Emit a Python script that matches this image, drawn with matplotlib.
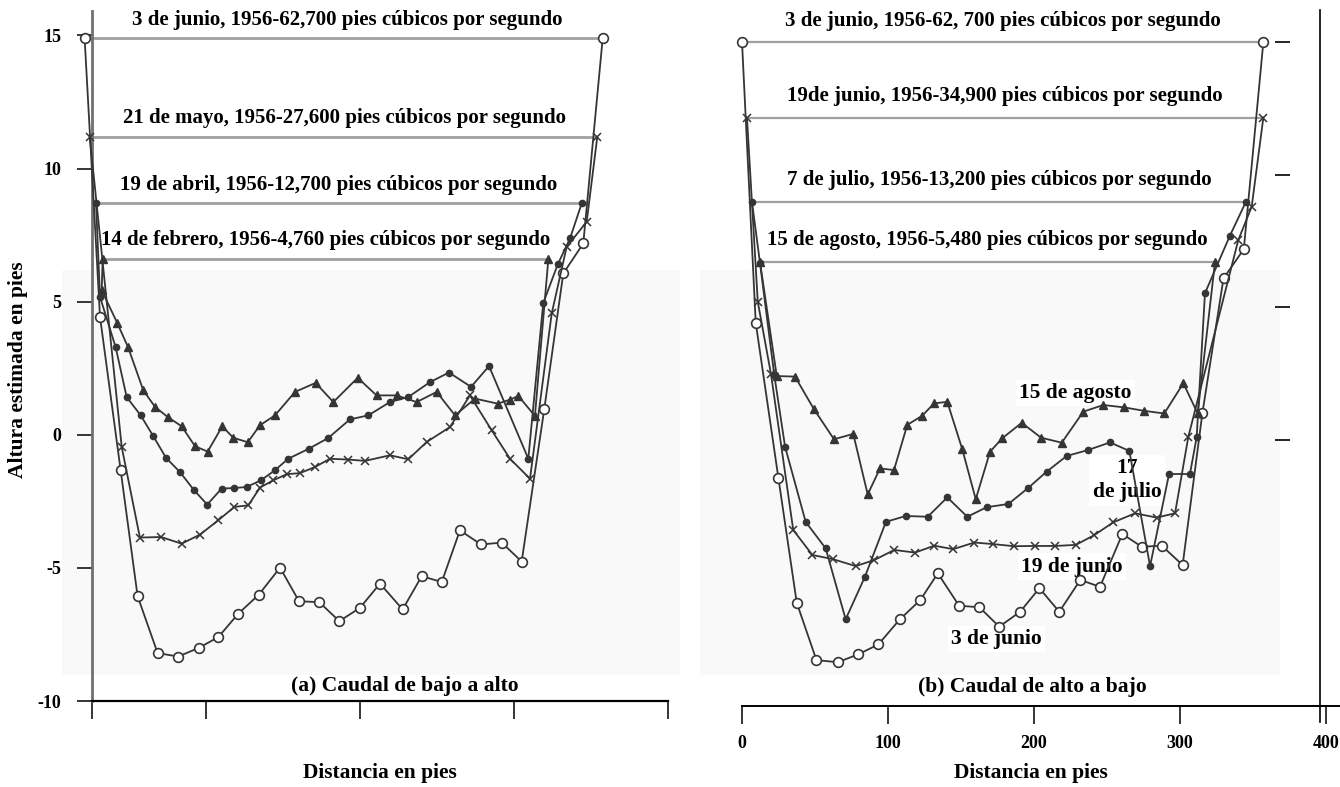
import matplotlib
matplotlib.use("Agg")
import matplotlib.pyplot as plt
from matplotlib.lines import Line2D
from matplotlib.patches import Rectangle

plt.rcParams['font.family'] = ['Liberation Serif', 'DejaVu Serif']
plt.rcParams['font.weight'] = 'bold'

# ---- (a) Caudal de bajo a alto: distancia (pies) y altura (pies) ----
feb_x = [32.9, 32.3, 42.4, 49.5, 59.3, 66.9, 75.1, 84.2, 92.9, 101.1, 110.6, 117.7, 127.1, 135.1,
         144.8, 157.8, 171.2, 182.7, 198.5, 210.8, 223.8, 236.8, 249.8, 261.7, 274.7, 289.4,
         297.4, 302.8, 313.6, 322.3]
feb_y = [6.6, 5.43, 4.2, 3.28, 1.67, 1.05, 0.67, 0.32, -0.43, -0.63, 0.32, -0.11, -0.28, 0.36,
         0.73, 1.61, 1.95, 1.23, 2.14, 1.48, 1.48, 1.23, 1.61, 0.73, 1.36, 1.17, 1.32, 1.46, 0.71, 6.6]

abr_x = [28.6, 31.2, 41.4, 48.5, 57.6, 65.8, 74.0, 83.1, 92.4, 100.8, 110.2, 118.4, 126.4, 135.7,
         144.8, 153.4, 166.9, 179.4, 193.5, 205.4, 219.5, 231.4, 245.5, 257.8, 272.1, 283.8,
         309.3, 319.0, 328.4, 336.4, 344.0]
abr_y = [8.7, 5.18, 3.28, 1.42, 0.73, -0.05, -0.86, -1.4, -2.09, -2.62, -2.02, -2.0, -1.96, -1.71,
         -1.33, -0.9, -0.52, -0.12, 0.58, 0.73, 1.23, 1.42, 1.98, 2.34, 1.8, 2.58, -0.9, 4.95,
         6.4, 7.38, 8.7]

may_x = [24.5, 45.3, 57.1, 70.8, 84.2, 96.1, 108.0, 118.4, 127.5, 135.1, 143.7, 152.4, 161.0,
         170.8, 180.5, 192.4, 203.2, 219.5, 231.4, 243.3, 258.4, 271.4, 285.5, 297.4, 310.4,
         324.5, 334.2, 347.2, 354.1]
may_y = [11.2, -0.46, -3.86, -3.84, -4.09, -3.75, -3.21, -2.71, -2.65, -1.98, -1.71, -1.48, -1.44,
         -1.21, -0.9, -0.93, -0.98, -0.77, -0.92, -0.27, 0.29, 1.48, 0.17, -0.9, -1.65, 4.56,
         7.06, 8.0, 11.2]

jun_x = [21.2, 31.2, 44.6, 55.6, 68.6, 82.0, 95.5, 108.0, 121.0, 134.4, 148.1, 160.4, 173.6,
         186.6, 200.0, 213.0, 227.7, 240.1, 253.1, 264.9, 278.6, 292.0, 305.0, 319.7, 332.0,
         345.0, 357.6]
jun_y = [14.9, 4.43, -1.33, -6.06, -8.2, -8.33, -8.0, -7.6, -6.72, -6.0, -4.99, -6.25, -6.29,
         -7.0, -6.5, -5.59, -6.56, -5.31, -5.53, -3.59, -4.12, -4.05, -4.76, 0.98, 6.06, 7.19, 14.9]

niveles_a = [14.9, 11.2, 8.7, 6.6]
textos_a = ["3 de junio, 1956-62,700 pies cúbicos por segundo",
            "21 de mayo, 1956-27,600 pies cúbicos por segundo",
            "19 de abril, 1956-12,700 pies cúbicos por segundo",
            "14 de febrero, 1956-4,760 pies cúbicos por segundo"]

# ---- (b) Caudal de alto a bajo ----
jun3_x = [0.0, 9.4, 24.9, 37.5, 51.0, 65.6, 79.7, 93.4, 108.0, 122.1, 134.1, 148.7, 162.6, 176.2,
          190.5, 203.7, 217.3, 231.7, 245.2, 260.5, 273.8, 287.5, 301.8, 315.3, 329.8, 343.7, 357.1]
jun3_y = [15.0, 4.42, -1.42, -6.13, -8.29, -8.37, -8.07, -7.7, -6.76, -6.03, -5.02, -6.24, -6.3,
          -7.03, -6.47, -5.58, -6.47, -5.27, -5.53, -3.54, -4.02, -3.98, -4.71, 1.0, 6.09, 7.19, 15.0]

jun19_x = [3.4, 10.8, 19.9, 35.1, 48.2, 62.5, 77.9, 90.6, 104.3, 118.5, 131.7, 144.7, 159.1, 172.1,
           186.3, 200.7, 214.4, 228.6, 241.3, 254.3, 269.2, 284.0, 296.6, 305.7, 339.9, 349.1, 357.1]
jun19_y = [12.15, 5.21, 2.47, -3.39, -4.33, -4.49, -4.75, -4.52, -4.14, -4.24, -3.98, -4.11, -3.86,
           -3.92, -4.0, -3.99, -3.99, -3.95, -3.58, -3.1, -2.76, -2.92, -2.76, 0.12, 7.53, 8.79, 12.15]

jul_x = [6.8, 12.3, 22.1, 29.5, 43.6, 57.3, 71.0, 84.2, 98.6, 112.3, 127.2, 140.6, 154.3, 167.6,
         182.4, 195.7, 208.7, 222.4, 236.8, 252.1, 265.3, 279.5, 292.5, 306.8, 311.4, 317.1,
         334.2, 345.2]
jul_y = [8.98, 6.68, 2.45, -0.25, -3.08, -4.08, -6.75, -5.15, -3.08, -2.86, -2.89, -2.16, -2.89,
         -2.53, -2.41, -1.82, -1.19, -0.6, -0.38, -0.09, -0.41, -4.75, -1.28, -1.28, 0.1, 5.53,
         7.7, 8.98]

ago_x = [12.3, 23.8, 36.3, 49.3, 63.0, 76.2, 86.1, 94.5, 104.1, 113.2, 123.5, 131.5, 140.6, 150.9,
         160.1, 169.9, 178.1, 191.6, 204.8, 219.0, 233.8, 247.5, 261.8, 275.5, 289.2, 302.3,
         312.1, 324.0]
ago_y = [6.72, 2.41, 2.39, 1.16, 0.03, 0.23, -2.05, -1.07, -1.13, 0.57, 0.92, 1.38, 1.44, -0.35,
         -2.23, -0.44, 0.06, 0.65, 0.09, -0.1, 1.07, 1.32, 1.23, 1.1, 1.0, 2.14, 1.0, 6.72]

niveles_b = [15.0, 12.15, 8.98, 6.72]
textos_b = ["3 de junio, 1956-62, 700 pies cúbicos por segundo",
            "19de junio, 1956-34,900 pies cúbicos por segundo",
            "7 de julio, 1956-13,200 pies cúbicos por segundo",
            "15 de agosto, 1956-5,480 pies cúbicos por segundo"]

ticks_y = [-10, -5, 0, 5, 10, 15]
ticks_x_b = [0, 100, 200, 300, 400]

TINTA = '#353535'
AGUA = '#a0a0a0'
FONDO = '#f9f9f9'
estilos = [dict(marker='o', ms=7, mfc='white', mec=TINTA, mew=1.2),   # 3 de junio
           dict(marker='x', ms=5.5, mew=1.1, mec=TINTA),               # mayo / 19 junio
           dict(marker='o', ms=4.5, mfc=TINTA, mec=TINTA),             # abril / julio
           dict(marker='^', ms=5.5, mfc=TINTA, mec=TINTA)]             # febrero / agosto
caja = dict(boxstyle='square,pad=0.15', fc='white', ec='none')

fig = plt.figure(figsize=(13.4, 7.87), dpi=100)
W, H = 1340, 787

# fondo gris claro detrás de las curvas
fig.add_artist(Rectangle((62 / W, 1 - 675 / H), 618 / W, 405 / H, transform=fig.transFigure,
                         fc=FONDO, ec='none', zorder=0))
fig.add_artist(Rectangle((700 / W, 1 - 675 / H), 580 / W, 405 / H, transform=fig.transFigure,
                         fc=FONDO, ec='none', zorder=0))

# panel (a)
ax1 = fig.add_axes([92 / W, 1 - 701 / H, 576 / W, 690 / H])
ax1.patch.set_visible(False)
ax1.set_xlim(26, 400)
ax1.set_ylim(-10, 15.92)
for s in ['top', 'right']:
    ax1.spines[s].set_visible(False)
ax1.spines['left'].set_color('#707070')
ax1.spines['left'].set_linewidth(2)
ax1.spines['bottom'].set_linewidth(1.6)
ax1.set_yticks(ticks_y)
ax1.set_yticklabels([str(t) for t in ticks_y])
ax1.set_xticks([26, 100, 200, 300, 400])
ax1.set_xticklabels([])
ax1.tick_params(axis='y', length=11, width=1.1, pad=11, labelsize=13)
ax1.tick_params(axis='x', length=13, width=1.1)

curvas_a = [(jun_x, jun_y), (may_x, may_y), (abr_x, abr_y), (feb_x, feb_y)]
for (cx, cy), nivel, txt, est in zip(curvas_a, niveles_a, textos_a, estilos):
    ax1.hlines(nivel, max(cx[0], 26), cx[-1], color=AGUA, lw=2, zorder=1)
    ax1.plot(cx, cy, color=TINTA, lw=1.3, zorder=3, clip_on=False, **est)
    ax1.text((max(cx[0], 26) + cx[-1]) / 2, nivel + 0.7, txt, ha='center', va='center',
             fontsize=15, clip_on=False, bbox=caja, zorder=2)

ax1.text(229, -9.45, "(a) Caudal de bajo a alto", ha='center', va='center', fontsize=15.5)

# panel (b)
ax2 = fig.add_axes([742 / W, 1 - 705.5 / H, 598 / W, 695.5 / H])
ax2.patch.set_visible(False)
ax2.set_xlim(0, 598 / 1.46)
ax2.set_ylim(-10, 16.2)
for s in ['top', 'right', 'left']:
    ax2.spines[s].set_visible(False)
ax2.spines['bottom'].set_linewidth(1.4)
ax2.set_yticks([])
ax2.set_xticks(ticks_x_b)
ax2.set_xticklabels([str(t) for t in ticks_x_b], fontsize=13)
ax2.tick_params(axis='x', length=13, width=1.1, pad=8)
ax2.hlines([0, 5, 10, 15], 0.891, 0.916, transform=ax2.get_yaxis_transform(),
           color='black', lw=1.2)

curvas_b = [(jun3_x, jun3_y), (jun19_x, jun19_y), (jul_x, jul_y), (ago_x, ago_y)]
for (cx, cy), nivel, txt, est in zip(curvas_b, niveles_b, textos_b, estilos):
    ax2.hlines(nivel, cx[0], cx[-1], color=AGUA, lw=1.6, zorder=1)
    ax2.plot(cx, cy, color=TINTA, lw=1.3, zorder=3, clip_on=False, **est)
    ax2.text((cx[0] + cx[-1]) / 2, nivel + 0.8, txt, ha='center', va='center',
             fontsize=15, clip_on=False, bbox=caja, zorder=2)

ax2.text(228.4, 1.78, "15 de agosto", ha='center', va='center', fontsize=15.5, bbox=caja, zorder=2)
ax2.text(263.7, -1.51, "17\nde julio", ha='center', va='center', fontsize=15.5, linespacing=1.3,
         bbox=caja, zorder=2)
ax2.text(225.8, -4.77, "19 de junio", ha='center', va='center', fontsize=15.5, bbox=caja, zorder=2)
ax2.text(174.3, -7.5, "3 de junio", ha='center', va='center', fontsize=15.5, bbox=caja, zorder=2)
ax2.text(198.6, -9.29, "(b) Caudal de alto a bajo", ha='center', va='center', fontsize=15.5)

# marco vertical derecho
fig.add_artist(Line2D([1320 / W, 1320 / W], [1 - 722 / H, 1 - 10 / H], color='black', lw=1.2))

fig.text(18 / W, 1 - 370 / H, "Altura estimada en pies", rotation=90, ha='center', va='center',
         fontsize=15.5)
fig.text(380 / W, 1 - 773 / H, "Distancia en pies", ha='center', va='center', fontsize=15.5)
fig.text(1031 / W, 1 - 773 / H, "Distancia en pies", ha='center', va='center', fontsize=15.5)

fig.savefig("out.png", dpi=100)
